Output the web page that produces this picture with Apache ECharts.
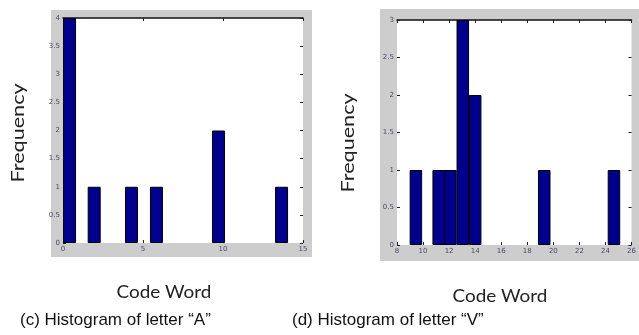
<!DOCTYPE html>
<html>
<head>
<meta charset="utf-8">
<script src="https://cdn.jsdelivr.net/npm/echarts@6/dist/echarts.min.js"></script>
<style>
  html, body { margin: 0; padding: 0; background: #fff; }
  #chart { width: 639px; height: 335px; }
</style>
</head>
<body>
<div id="chart"></div>
<script>
// histogram of letter "A"
const leftCodeWords = [0.41, 1.95, 4.28, 5.84, 9.72, 13.66];
const leftFreq = [4, 1, 1, 1, 2, 1];
// histogram of letter "V"
const rightCodeWords = [9.45, 11.2, 12.1, 13.05, 14.0, 19.3, 24.65];
const rightFreq = [1, 1, 1, 3, 2, 1, 1];

const captions = ['(c) Histogram of letter \u201CA\u201D', '(d) Histogram of letter \u201CV\u201D'];
const xName = 'Code Word';
const yName = 'Frequency';

const chart = echarts.init(document.getElementById('chart'));

const tickLabel = { fontSize: 7, color: '#4a4a6a', fontFamily: 'DejaVu Sans' };

function bottomX(gridIndex, min, max, interval) {
    return {
        type: 'value', gridIndex: gridIndex, position: 'bottom',
        min: min, max: max, interval: interval,
        axisLine: { show: false, onZero: false },
        axisTick: { show: true, inside: true, length: 3, lineStyle: { color: '#222' } },
        axisLabel: Object.assign({ margin: 3 }, tickLabel),
        splitLine: { show: false }
    };
}
function topX(gridIndex, min, max, interval) {
    return {
        type: 'value', gridIndex: gridIndex, position: 'top',
        min: min, max: max, interval: interval,
        axisLine: { show: true, onZero: false, lineStyle: { color: '#111', width: 1.5 } },
        axisTick: { show: true, inside: true, length: 3, lineStyle: { color: '#222' } },
        axisLabel: { show: false },
        splitLine: { show: false }
    };
}
function leftY(gridIndex, max) {
    return {
        type: 'value', gridIndex: gridIndex, position: 'left',
        min: 0, max: max, interval: 0.5,
        axisLine: { show: false, onZero: false },
        axisTick: { show: true, inside: true, length: 3, lineStyle: { color: '#222' } },
        axisLabel: Object.assign({ margin: 3 }, tickLabel),
        splitLine: { show: false }
    };
}
function rightY(gridIndex, max) {
    return {
        type: 'value', gridIndex: gridIndex, position: 'right',
        min: 0, max: max, interval: 0.5,
        axisLine: { show: false, onZero: false },
        axisTick: { show: true, inside: true, length: 3, lineStyle: { color: '#222' } },
        axisLabel: { show: false },
        splitLine: { show: false }
    };
}

// the figure text is stretched a bit compared with the font
function label(text, x, y, font, opts) {
    return Object.assign({
        type: 'text', x: x, y: y,
        style: { text: text, font: font, fill: '#222', align: 'center', verticalAlign: 'middle' }
    }, opts || {});
}

const option = {
    animation: false,
    backgroundColor: '#fff',
    graphic: [
        // grey figure panels behind the axes
        { type: 'rect', z: -10, shape: { x: 51, y: 10, width: 261, height: 247 }, style: { fill: '#cdcdcd' } },
        { type: 'rect', z: -10, shape: { x: 380, y: 9, width: 259, height: 252 }, style: { fill: '#cdcdcd' } },
        label(yName, 18, 133, '18px Lato', { rotation: Math.PI / 2, scaleX: 1.2 }),
        label(yName, 348, 143, '18px Lato', { rotation: Math.PI / 2, scaleX: 1.2 }),
        label(xName, 164, 292, '18px Lato', { scaleX: 1.05 }),
        label(xName, 500, 296, '18px Lato', { scaleX: 1.05 }),
        { type: 'text', x: 20, y: 320,
          style: { text: captions[0], font: '17px "Liberation Sans"', fill: '#111', align: 'left', verticalAlign: 'middle' } },
        { type: 'text', x: 292, y: 320,
          style: { text: captions[1], font: '17px "Liberation Sans"', fill: '#111', align: 'left', verticalAlign: 'middle' } }
    ],
    grid: [
        { left: 63, top: 18, width: 240, height: 225, show: true, backgroundColor: '#fff', borderWidth: 0 },
        { left: 397, top: 20, width: 241, height: 225, show: true, backgroundColor: '#fff', borderWidth: 0 }
    ],
    xAxis: [
        bottomX(0, 0, 15, 5),
        topX(0, 0, 15, 5),
        bottomX(1, 8, 26, 2),
        topX(1, 8, 26, 2)
    ],
    yAxis: [
        leftY(0, 4),
        rightY(0, 4),
        leftY(1, 3),
        rightY(1, 3)
    ],
    series: [
        {
            type: 'bar', xAxisIndex: 0, yAxisIndex: 0, barWidth: 13,
            data: leftCodeWords.map((x, i) => [x, leftFreq[i]]),
            itemStyle: { color: '#00008f', borderColor: '#000', borderWidth: 1 }
        },
        {
            type: 'bar', xAxisIndex: 2, yAxisIndex: 2, barWidth: 12.5,
            data: rightCodeWords.map((x, i) => [x, rightFreq[i]]),
            itemStyle: { color: '#00008f', borderColor: '#000', borderWidth: 1 }
        }
    ]
};

chart.setOption(option);
</script>
</body>
</html>
